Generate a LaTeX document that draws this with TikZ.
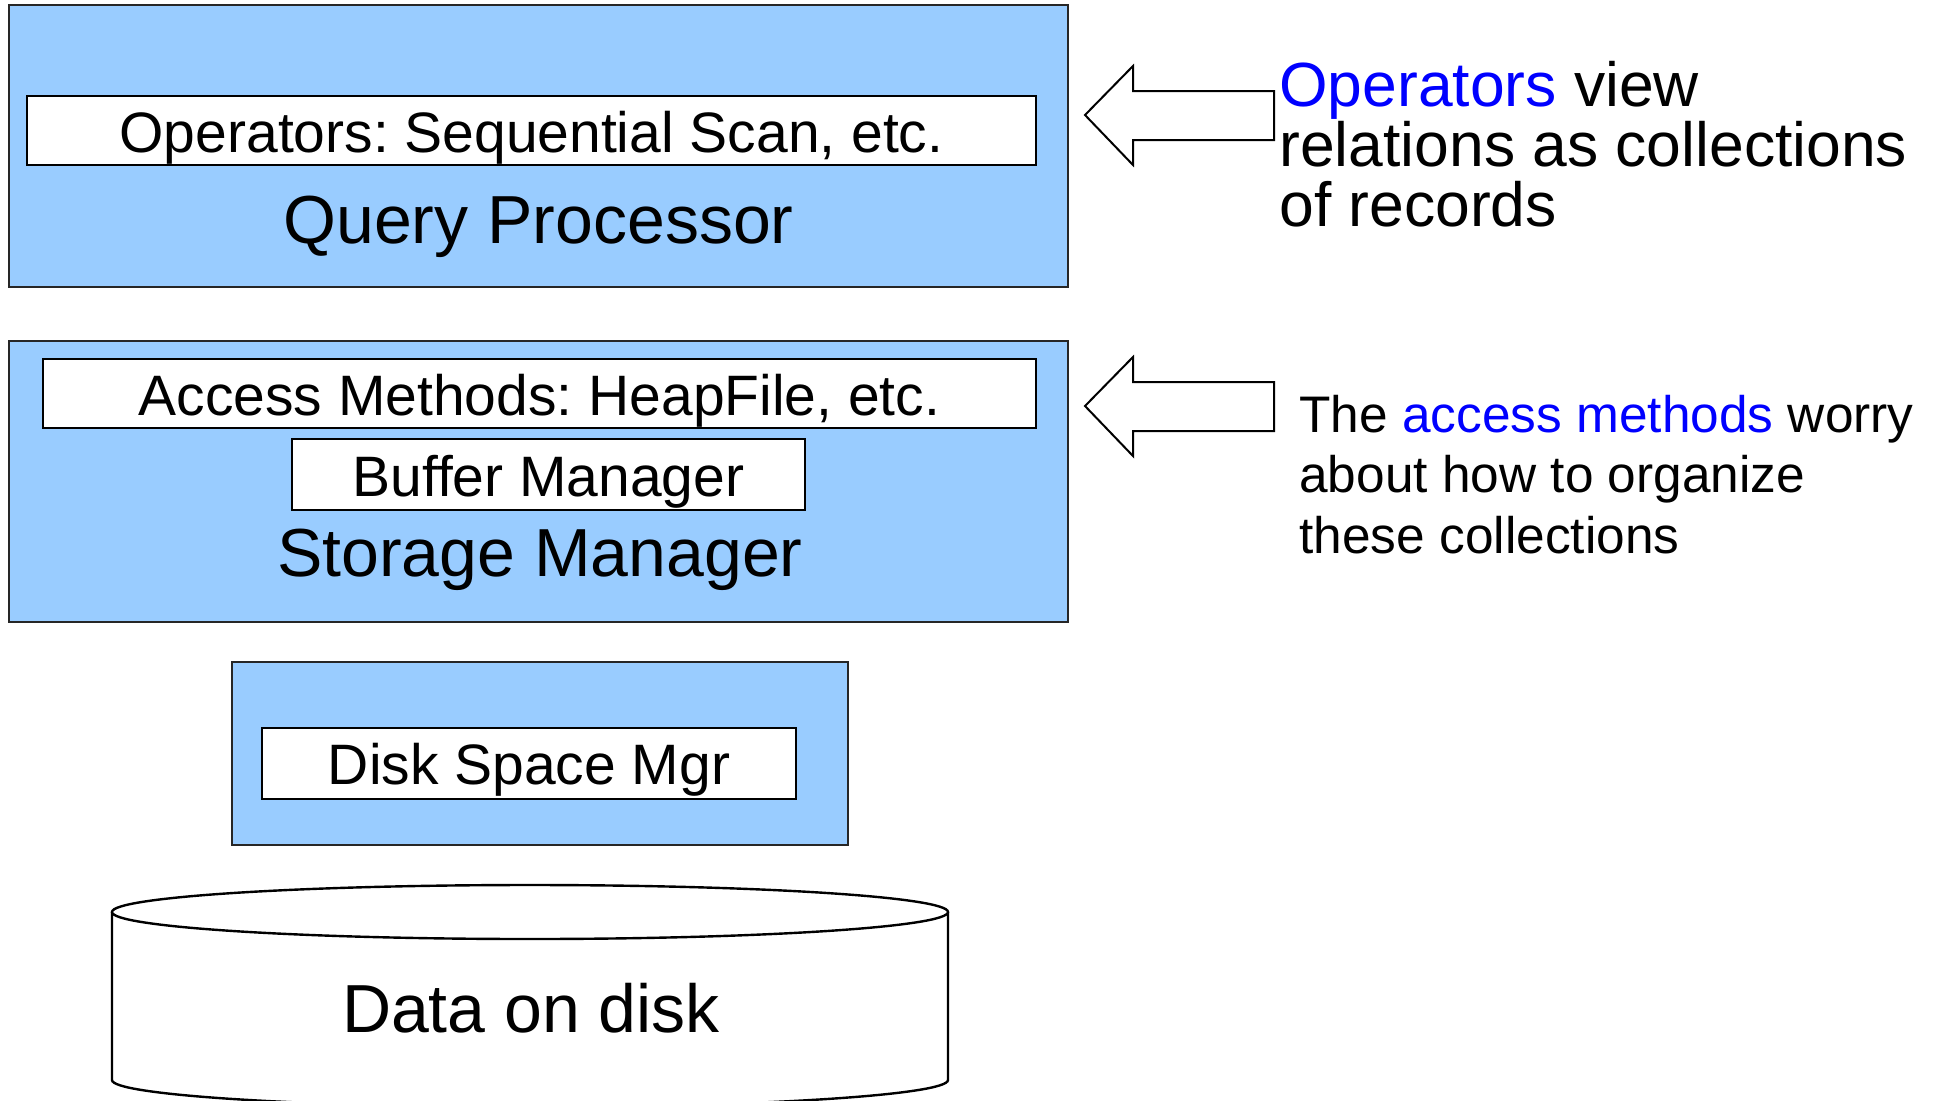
\documentclass[tikz,border=0pt]{standalone}
\usepackage{fontspec}
\setmainfont{Liberation Sans}
\usetikzlibrary{fit}
\definecolor{boxblue}{RGB}{153,204,255}
\definecolor{txtblue}{RGB}{0,0,255}
\frenchspacing
\begin{document}
\begin{tikzpicture}[x=0.5pt,y=-0.5pt,
  layer/.style={draw=black!85, line width=1.2pt, fill=boxblue, inner sep=0pt},
  sub/.style={draw=black, line width=1pt, fill=white, inner sep=0pt},
  midtxt/.style={anchor=base, font=\fontsize{28.5}{34}\selectfont, inner sep=0pt},
  bigtxt/.style={anchor=base, font=\fontsize{34}{40}\selectfont, inner sep=0pt},
  note/.style={anchor=base west, font=\fontsize{31.2}{36}\selectfont, inner sep=0pt},
  notesmall/.style={anchor=base west, font=\fontsize{25.7}{30}\selectfont, inner sep=0pt},
  blockarrow/.style={draw=black, line width=1pt, fill=white, line join=miter},
  cyl/.style={draw=black, line width=1.2pt, fill=white}]
\useasboundingbox (0,0) rectangle (1934,1100);
\clip (0,0) rectangle (1934,1100);
% Query processor layer
\node[layer, fit={(9,5) (1068,287)}] (qp) {};
\node[sub, fit={(27,96) (1036,165)}] (ops) {};
\node[midtxt] (opst) at (531.5,152) {Operators: Sequential Scan, etc.};
\node[bigtxt] (qpt) at (538.5,243) {Query Processor};
% Storage manager layer
\node[layer, fit={(9,341) (1068,622)}] (sm) {};
\node[sub, fit={(43,359) (1036,428)}] (am) {};
\node[midtxt] (amt) at (539.5,415) {Access Methods: HeapFile, etc.};
\node[sub, fit={(292,439) (805,510)}] (bm) {};
\node[midtxt] (bmt) at (548.5,496) {Buffer Manager};
\node[bigtxt] (smt) at (540,576) {Storage Manager};
% Disk space manager layer
\node[layer, fit={(232,662) (848,845)}] (ds) {};
\node[sub, fit={(262,728) (796,799)}] (dsm) {};
\node[midtxt] (dsmt) at (529,784) {Disk Space Mgr};
% Cylinder
\draw[cyl] (112,912) -- (112,1080) arc[start angle=180, end angle=360, x radius=209pt, y radius=13.5pt] -- (948,912);
\draw[cyl] (530,912) ellipse [x radius=209pt, y radius=13.5pt];
\node[bigtxt] (data) at (531,1032) {Data on disk};
% Block arrows
\draw[blockarrow] (1085,115) -- (1133,66) -- (1133,91) -- (1274,91) -- (1274,140) -- (1133,140) -- (1133,165) -- cycle;
\draw[blockarrow] (1085,406) -- (1133,357) -- (1133,382) -- (1274,382) -- (1274,431) -- (1133,431) -- (1133,456) -- cycle;
% Notes
\node[note] (n1a) at (1279,106) {{\color{txtblue}Operators} view};
\node[note] (n1b) at (1279,166) {relations as collections};
\node[note] (n1c) at (1279,226) {of records};
\node[notesmall] (n2a) at (1299,432) {The {\color{txtblue}access methods} worry};
\node[notesmall] (n2b) at (1299,492) {about how to organize};
\node[notesmall] (n2c) at (1299,553) {these collections};
\end{tikzpicture}
\end{document}
